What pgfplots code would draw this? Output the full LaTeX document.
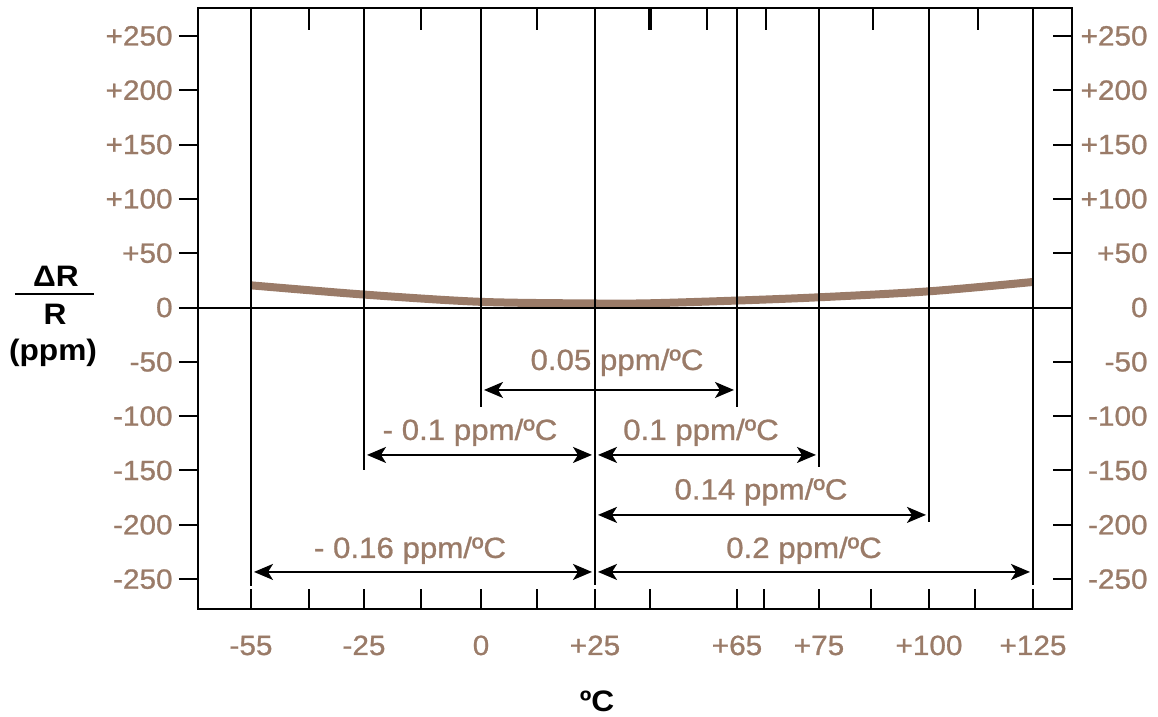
\documentclass[border=0pt]{standalone}
\usepackage{pgfplots}
\pgfplotsset{compat=1.18}
\usepackage{fontspec}
\setmainfont{Liberation Sans}[FakeStretch=1.07]
\newfontfamily\labfont{Liberation Sans}[FakeStretch=1.07, FakeBold=0.9]
\usetikzlibrary{arrows.meta}
\definecolor{brn}{RGB}{154,123,104}
\begin{document}
\begin{tikzpicture}
\useasboundingbox (-99pt,-54pt) rectangle (480pt,304.5pt);
\begin{axis}[
 at={(0,0)}, anchor=south west,
 scale only axis, width=437pt, height=300.35pt,
 xmin=198, xmax=1072, ymin=-277.5, ymax=275.4,
 clip=false,
 axis line style={line width=1pt},
 xtick={251,309,364,421,481,537,595,650,737,764,819,871,929,975,1033},
 xticklabels={-55,,-25,,0,,+25,,+65,,+75,,+100,,+125},
 xtick pos=left, tick align=inside, major tick length=10pt,
 xtick style={line width=1pt, black},
 ytick={-250,-200,-150,-100,-50,0,50,100,150,200,250},
 yticklabels={-250,-200,-150,-100,-50,0,+50,+100,+150,+200,+250},
 ytick style={draw=none},
 ytick pos=left,
 ticklabel style={font=\labfont\fontsize{13.9}{16}\selectfont, text=brn, inner sep=0pt},
 xticklabel style={anchor=base, yshift=-23pt},
 yticklabel style={anchor=east, xshift=-12.5pt},
]
% curve
\addplot[smooth, line width=4pt, color=brn] coordinates {
 (251,20.4) (364,11.9) (481,5.2) (595,3.7) (650,3.9) (737,6.4) (819,9.4) (929,14.9) (1033,23.5)};
% zero line
\draw[line width=1pt] (axis cs:179,0) -- (axis cs:1072,0);
% left (outside) and right (inside) y ticks
\pgfplotsinvokeforeach{-250,-200,-150,-100,-50,50,100,150,200,250}{
 \draw[line width=1pt] (axis cs:179,#1) -- (axis cs:198,#1);
 \draw[line width=1pt] (axis cs:1053,#1) -- (axis cs:1072,#1);
}
% top ticks
\pgfplotsinvokeforeach{309,421,537,707,766,873,978}{
 \draw[line width=1pt] (axis cs:#1,275.4) -- (axis cs:#1,255.2);
}
\draw[line width=2pt] (axis cs:650,275.4) -- (axis cs:650,255.2);
% vertical lines
\draw[line width=1pt] (axis cs:251,275.4) -- (axis cs:251,-256);
\draw[line width=1pt] (axis cs:364,275.4) -- (axis cs:364,-149.5);
\draw[line width=1pt] (axis cs:481,275.4) -- (axis cs:481,-91.6);
\draw[line width=1pt] (axis cs:595,275.4) -- (axis cs:595,-255.4);
\draw[line width=1pt] (axis cs:737,275.4) -- (axis cs:737,-91.6);
\draw[line width=1pt] (axis cs:819,275.4) -- (axis cs:819,-146.8);
\draw[line width=1pt] (axis cs:929,275.4) -- (axis cs:929,-197.4);
\draw[line width=1pt] (axis cs:1033,275.4) -- (axis cs:1033,-255.4);
% arrows
\tikzset{dim/.style={line width=1pt, {Stealth[length=9.5pt,width=8pt,inset=2.5pt]}-{Stealth[length=9.5pt,width=8pt,inset=2.5pt]}, shorten >=1.5pt, shorten <=1.5pt}}
\draw[dim] (axis cs:481,-75.9) -- (axis cs:737,-75.9);
\draw[dim] (axis cs:364,-135.7) -- (axis cs:595,-135.7);
\draw[dim] (axis cs:595,-135.7) -- (axis cs:819,-135.7);
\draw[dim] (axis cs:595,-190.9) -- (axis cs:929,-190.9);
\draw[dim] (axis cs:251,-243.4) -- (axis cs:595,-243.4);
\draw[dim] (axis cs:595,-243.4) -- (axis cs:1033,-243.4);
% arrow labels
\tikzset{lab/.style={anchor=base, text=brn, inner sep=0pt, font=\labfont\fontsize{14.6}{17}\selectfont}}
\node[lab] at (axis cs:617,-57.5) {0.05 ppm/ºC};
\node[lab] at (axis cs:470,-121.9) {- 0.1 ppm/ºC};
\node[lab] at (axis cs:701,-121.9) {0.1 ppm/ºC};
\node[lab] at (axis cs:761,-176.7) {0.14 ppm/ºC};
\node[lab] at (axis cs:410,-230.5) {- 0.16 ppm/ºC};
\node[lab] at (axis cs:804,-230.5) {0.2 ppm/ºC};
% right tick labels
\tikzset{rl/.style={anchor=east, text=brn, inner sep=0pt, font=\labfont\fontsize{13.9}{16}\selectfont}}
\node[rl] at (axis cs:1148,250) {+250};
\node[rl] at (axis cs:1148,200) {+200};
\node[rl] at (axis cs:1148,150) {+150};
\node[rl] at (axis cs:1148,100) {+100};
\node[rl] at (axis cs:1148,50) {+50};
\node[rl] at (axis cs:1148,0) {0};
\node[rl] at (axis cs:1148,-50) {-50};
\node[rl] at (axis cs:1148,-100) {-100};
\node[rl] at (axis cs:1148,-150) {-150};
\node[rl] at (axis cs:1148,-200) {-200};
\node[rl] at (axis cs:1148,-250) {-250};
% y label
\tikzset{bl/.style={anchor=base, inner sep=0pt, font=\bfseries\fontsize{14.8}{17}\selectfont}}
\node[bl] at (axis cs:56,18.9) {ΔR};
\draw[line width=1pt] (axis cs:15,12.1) -- (axis cs:94,12.1);
\node[bl] at (axis cs:55,-16.1) {R};
\node[bl] at (axis cs:53,-48.8) {(ppm)};
% x label
\node[bl] at (axis cs:597,-372.2) {ºC};
\end{axis}
\end{tikzpicture}
\end{document}
